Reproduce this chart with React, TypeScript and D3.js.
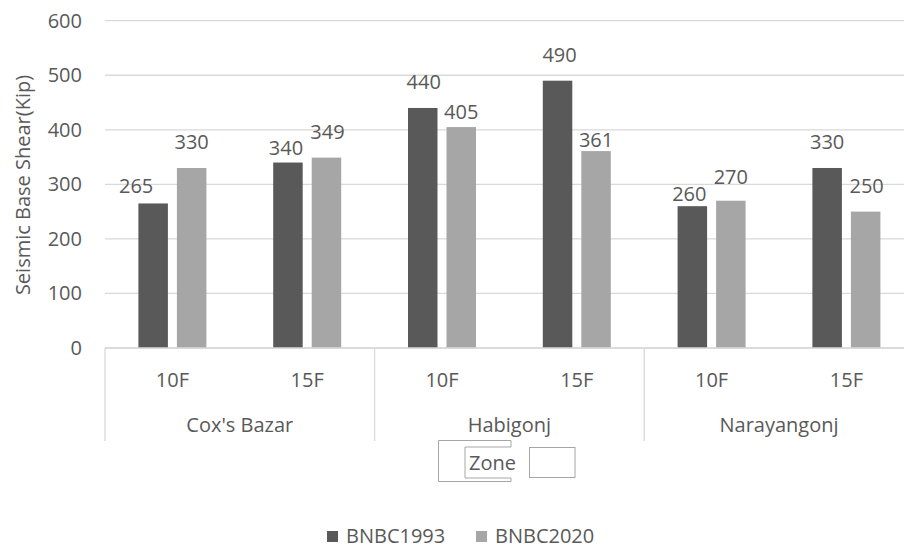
import React from "react";
import * as d3 from "d3";

// Seismic base shear by zone and storey count, two code editions
const zones = ["Cox's Bazar", "Habigonj", "Narayangonj"];
const storeys = ["10F", "15F"];
const seriesNames = ["BNBC1993", "BNBC2020"];
const bnbc1993 = [265, 340, 440, 490, 260, 330];
const bnbc2020 = [330, 349, 405, 361, 270, 250];
const yTicks = [0, 100, 200, 300, 400, 500, 600];

// Hand-placed nudges for the value labels [dx, dy] in px
const labelNudge1993 = [[-17, -4], [-2, -2], [1, -13], [2, -13], [-3, 1], [0, -13]];
const labelNudge2020 = [[0, -13], [1, -13], [0, -2], [0, 2], [0, -11], [1, -13]];

const W = 904;
const H = 548;
const FONT = "'Open Sans', 'DejaVu Sans', sans-serif";
const TEXT = "#595959";
const GRID = "#d9d9d9";
const COLORS = ["#595959", "#a6a6a6"];

export default function App() {
  const slots = zones.flatMap((z) => storeys.map((s) => `${z}|${s}`));
  const x0 = d3.scaleBand<string>().domain(slots).range([105, 913.8]).padding(0);
  const x1 = d3.scaleBand<string>().domain(seriesNames).range([-34, 34]).paddingInner(0.234);
  const y = d3.scaleLinear().domain([0, 600]).range([348, 20.7]);

  const series = [bnbc1993, bnbc2020];
  const nudges = [labelNudge1993, labelNudge2020];

  const groupEdges = zones.map((_, i) => x0(slots[i * 2])!).concat([x0.range()[1]]);

  return (
    <svg
      width={W}
      height={H}
      style={{ position: "absolute", left: 0, top: 0, display: "block", background: "#fff" }}
      fontFamily={FONT}
    >
      {/* gridlines and y tick labels */}
      {yTicks.map((t) => (
        <g key={t}>
          <line x1={105} x2={W} y1={y(t)} y2={y(t)} stroke={GRID} strokeWidth={1.3} />
          <text x={82} y={y(t)} dy="0.35em" textAnchor="end" fontSize={20} fill={TEXT}>
            {t}
          </text>
        </g>
      ))}

      {/* y-axis title */}
      <text
        transform={`translate(30,${185}) rotate(-90)`}
        textAnchor="middle"
        fontSize={20}
        fill={TEXT}
      >
        Seismic Base Shear(Kip)
      </text>

      {/* bars */}
      {series.map((vals, si) =>
        vals.map((v, i) => {
          const cx = x0(slots[i])! + x0.bandwidth() / 2;
          const bx = cx + x1(seriesNames[si])!;
          return (
            <rect
              key={`${si}-${i}`}
              x={bx}
              y={y(v)}
              width={x1.bandwidth()}
              height={y(0) - y(v)}
              fill={COLORS[si]}
            />
          );
        })
      )}

      {/* value labels */}
      {series.map((vals, si) =>
        vals.map((v, i) => {
          const cx = x0(slots[i])! + x0.bandwidth() / 2;
          const lx = cx + x1(seriesNames[si])! + x1.bandwidth() / 2 + nudges[si][i][0];
          const ly = y(v) - 6 + nudges[si][i][1];
          return (
            <text key={`l${si}-${i}`} x={lx} y={ly} textAnchor="middle" fontSize={20} fill={TEXT}>
              {v}
            </text>
          );
        })
      )}

      {/* category axis */}
      <line x1={105} x2={W} y1={y(0)} y2={y(0)} stroke={GRID} strokeWidth={1.3} />
      {groupEdges.map((gx, i) => (
        <line key={`sep${i}`} x1={gx} x2={gx} y1={y(0)} y2={441} stroke={GRID} strokeWidth={1.3} />
      ))}
      {slots.map((s) => {
        const [, st] = s.split("|");
        return (
          <text
            key={`st${s}`}
            x={x0(s)! + x0.bandwidth() / 2}
            y={387}
            textAnchor="middle"
            fontSize={20}
            fill={TEXT}
          >
            {st}
          </text>
        );
      })}
      {zones.map((z, i) => (
        <text
          key={`z${z}`}
          x={(groupEdges[i] + groupEdges[i + 1]) / 2}
          y={432}
          textAnchor="middle"
          fontSize={20}
          fill={TEXT}
        >
          {z}
        </text>
      ))}

      {/* axis title frame */}
      <path
        d="M511,440.5 H438.5 V481.5 H511 M511,440.5 V447 M511,478 V481.5 M511,447 H465 V478 H511"
        fill="none"
        stroke="#a6a6a6"
        strokeWidth={1}
      />
      <rect x={529.5} y={447.5} width={45.5} height={30} fill="none" stroke="#a6a6a6" strokeWidth={1} />
      <text x={469} y={470} fontSize={20} fill={TEXT}>
        Zone
      </text>

      {/* legend */}
      {seriesNames.map((name, i) => {
        const lx = i === 0 ? 327 : 476;
        return (
          <g key={name}>
            <rect x={lx} y={531} width={11} height={11} fill={COLORS[i]} />
            <text x={lx + 19} y={542.5} fontSize={20} fill={TEXT}>
              {name}
            </text>
          </g>
        );
      })}
    </svg>
  );
}
